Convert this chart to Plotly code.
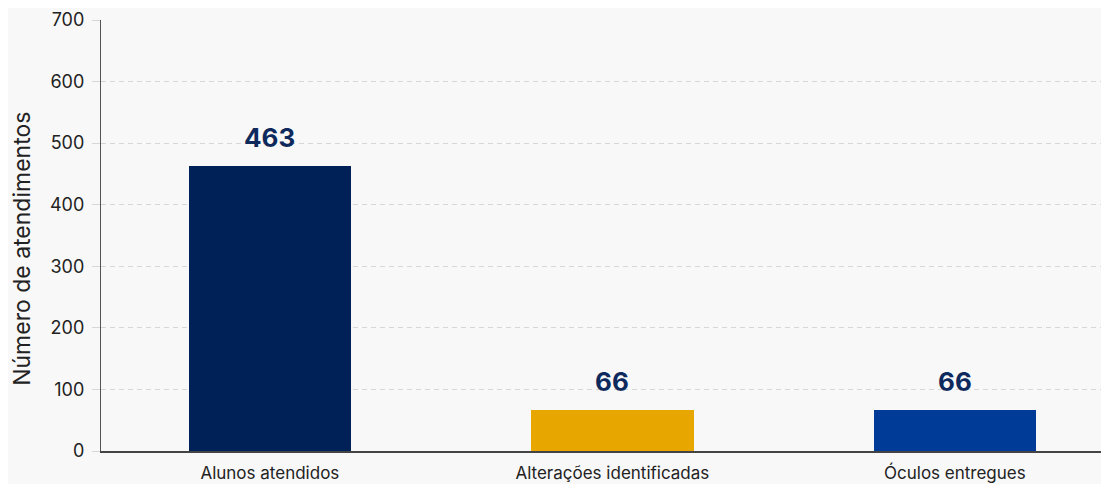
import plotly.graph_objects as go

categories = ["Alunos atendidos", "Alterações identificadas", "Óculos entregues"]
values = [463, 66, 66]
bar_colors = ["#002157", "#E8A600", "#003B97"]
y_ticks = [0, 100, 200, 300, 400, 500, 600, 700]
y_title = "Número de atendimentos"

fig = go.Figure()
fig.add_trace(go.Bar(
    x=categories, y=values, marker=dict(color=bar_colors, line=dict(width=0)),
    width=0.475, showlegend=False, hoverinfo="skip",
))
for c, v in zip(categories, values):
    fig.add_annotation(x=c, y=v, text=f"<b>{v}</b>", showarrow=False,
                       yanchor="bottom", yshift=11,
                       font=dict(family="Inter, Roboto, sans-serif", size=26, color="#0E2A5C"))

fig.add_annotation(text=y_title, xref="paper", yref="paper", x=-0.0784, y=0.469,
                   textangle=-90, showarrow=False, xanchor="center", yanchor="middle",
                   font=dict(family="Inter, Roboto, sans-serif", size=23, color="#222222"))

fig.update_layout(
    width=1101, height=476,
    margin=dict(l=93, r=0, t=12, b=33),
    paper_bgcolor="#F8F8F8", plot_bgcolor="#F8F8F8",
    font=dict(family="Inter, Roboto, sans-serif", color="#222222"),
    bargap=0,
)
fig.update_xaxes(
    range=[-0.493, 2.45], showgrid=False, showline=True, linecolor="#444444", linewidth=1.5,
    ticks="", tickfont=dict(size=17, color="#222222"), fixedrange=True, automargin=False,
    ticklabelstandoff=6,
)
fig.update_yaxes(
    range=[0, 700], tickvals=y_ticks, showgrid=True, gridcolor="#D6D6D6", griddash="5px,4px",
    gridwidth=1, showline=True, linecolor="#555555", linewidth=1.2,
    ticks="outside", ticklen=8, tickcolor="#D6D6D6", zeroline=False,
    tickfont=dict(size=18, color="#222222"), automargin=False, ticklabelstandoff=4,
)
fig.write_html("out.html")
